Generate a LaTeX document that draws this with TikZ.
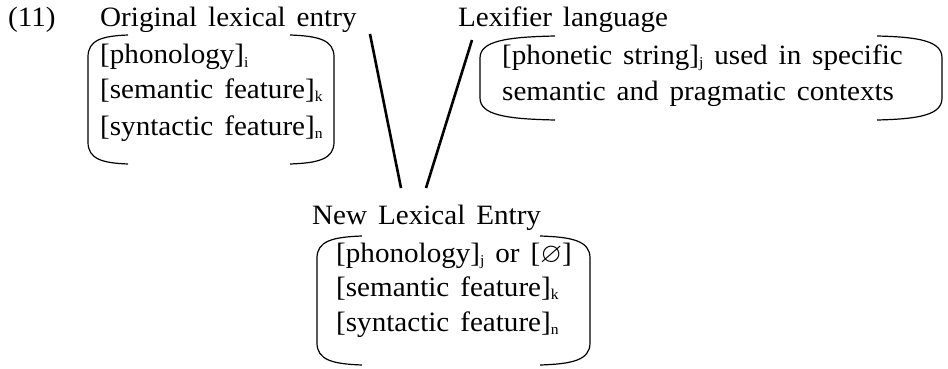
\documentclass[tikz,border=0pt]{standalone}
\usepackage{fontspec}
\setmainfont[FakeStretch=1.04,WordSpace={1.5}]{Liberation Serif}
\usepackage{amssymb}
\newcommand\sbs[1]{\raisebox{-3pt}{\fontsize{15}{15}\selectfont #1}}
% bracket box: #1 left x, #2 right x, #3 top y, #4 bottom y, #5 left arm, #6 right arm
\newcommand\lexbrk[6]{%
  \draw[brk] (#1+#5,#3) .. controls (#1+0.35*#5,#3+1) and (#1,#3+5) .. (#1,#3+22)
    -- (#1,#4-22) .. controls (#1,#4-5) and (#1+0.35*#5,#4-1) .. (#1+#5,#4);
  \draw[brk] (#2-#6,#3) .. controls (#2-0.35*#6,#3+1) and (#2,#3+5) .. (#2,#3+22)
    -- (#2,#4-22) .. controls (#2,#4-5) and (#2-0.35*#6,#4-1) .. (#2-#6,#4);
}
\begin{document}
\begin{tikzpicture}[x=1pt,y=-1pt,
  txt/.style={anchor=base west, inner sep=0pt, font=\fontsize{28}{33}\selectfont},
  brk/.style={line width=1.2pt},
  link/.style={line width=2.6pt}]
\useasboundingbox (0,0) rectangle (948,369);
\node[txt] (ex) at (8,27) {(11)};
\node[txt] (orig) at (100,27) {Original lexical entry};
\node[txt] (lexi) at (458,27) {Lexifier language};
\node[txt] (o1) at (100,64) {[phonology]\sbs{i}};
\node[txt] (o2) at (100,99) {[semantic feature]\sbs{k}};
\node[txt] (o3) at (100,135) {[syntactic feature]\sbs{n}};
\node[txt] (l1) at (502,65) {[phonetic string]\sbs{j} used in specific};
\node[txt] (l2) at (502,100) {semantic and pragmatic contexts};
\node[txt] (new) at (312,224) {New Lexical Entry};
\node[txt] (n1) at (336,262) {[phonology]\sbs{j} or [$\varnothing$]};
\node[txt] (n2) at (336,296) {[semantic feature]\sbs{k}};
\node[txt] (n3) at (336,331) {[syntactic feature]\sbs{n}};
\lexbrk{88}{334}{35}{164}{40}{44}
\lexbrk{480}{942}{36}{120}{75}{65}
\lexbrk{317}{590}{236}{365}{45}{50}
\coordinate (a1) at (370,34);
\coordinate (a2) at (401,188);
\coordinate (b1) at (472,40);
\coordinate (b2) at (426,188);
\draw[link] (a1) -- (a2);
\draw[link] (b1) -- (b2);
\end{tikzpicture}
\end{document}
